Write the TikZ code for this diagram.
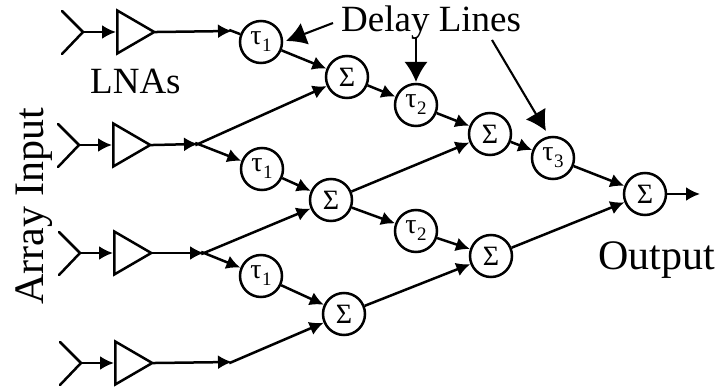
\documentclass[tikz,border=0pt]{standalone}
\usepackage{fontspec}
\setmainfont{Liberation Serif}
\usetikzlibrary{arrows.meta,shapes.geometric}
\def\dly#1{τ\kern.5pt\raisebox{-7pt}{\fontsize{19}{19}\selectfont #1}}
\tikzset{
  wire/.style={line width=2.5pt,-{Latex[length=14pt,width=14pt]}},
  joined/.style={shorten <=-3pt},
  plain/.style={line width=2.5pt},
  pointer/.style={line width=2.1pt,-{Latex[length=20pt,width=23pt]}},
  unit/.style={circle,draw,line width=2.5pt,minimum size=42pt,inner sep=0pt,font=\fontsize{28}{28}\selectfont},
  lna/.style={isosceles triangle,isosceles triangle stretches,draw,line width=2.5pt,
    minimum width=43pt,minimum height=37pt,inner sep=0pt,anchor=lower side},
  lbl/.style={inner sep=0pt,anchor=base west},
}
\begin{document}
\begin{tikzpicture}[x=1pt,y=-1pt]
\useasboundingbox (0,0) rectangle (718,387);
% lna rows
\foreach \n/\x/\y in {1/116/32,2/112/145,3/113/253,4/114/363}{
  \node[lna] (lna\n) at (\x,\y) {};
  \coordinate (ant\n) at (\x-33,\y);
  \coordinate (antup\n) at (\x-54,\y-21);
  \coordinate (antdn\n) at (\x-54,\y+22);
  \draw[plain,line cap=round] (antup\n) -- (ant\n) -- (antdn\n);
  \draw[wire] (ant\n) -- (lna\n.lower side);
}
% delays
\node[unit] (tauA) at (261,42) {\dly{1}};
\node[unit] (tauB) at (262,169) {\dly{1}};
\node[unit] (tauC) at (261,276) {\dly{1}};
\node[unit] (tauD) at (416,105) {\dly{2}};
\node[unit] (tauE) at (416,231) {\dly{2}};
\node[unit] (tauF) at (553,158) {\dly{3}};
% adders
\node[unit] (sumA) at (347,77) {Σ};
\node[unit] (sumB) at (331,200) {Σ};
\node[unit] (sumC) at (344,314) {Σ};
\node[unit] (sumD) at (490,134) {Σ};
\node[unit] (sumE) at (491,256) {Σ};
\node[unit] (sumF) at (645,194) {Σ};
% branch points
\coordinate (bendA) at (232,31);
\coordinate (splitB) at (198,144);
\coordinate (splitC) at (204,253);
\coordinate (bendD) at (232,362);
\coordinate (out) at (700,194);
\draw[wire,joined] (lna1.apex) -- (bendA);
\draw[plain,joined] (bendA) -- (tauA);
\draw[wire,joined] (lna2.apex) -- (splitB);
\draw[wire,joined] (splitB) -- (sumA);
\draw[wire,joined] (splitB) -- (tauB);
\draw[wire,joined] (lna3.apex) -- (splitC);
\draw[wire,joined] (splitC) -- (sumB);
\draw[wire,joined] (splitC) -- (tauC);
\draw[wire,joined] (lna4.apex) -- (bendD);
\draw[wire,joined] (bendD) -- (sumC);
\draw[wire] (tauA) -- (sumA);
\draw[wire] (tauB) -- (sumB);
\draw[wire] (tauC) -- (sumC);
\draw[wire] (sumA) -- (tauD);
\draw[wire] (sumB) -- (tauE);
\draw[wire] (sumB) -- (sumD);
\draw[wire] (sumC) -- (sumE);
\draw[wire] (tauD) -- (sumD);
\draw[wire] (tauE) -- (sumE);
\draw[wire] (sumD) -- (tauF);
\draw[wire] (sumE) -- (sumF);
\draw[wire] (tauF) -- (sumF);
\draw[wire] (sumF) -- (out);
% labels
\node[lbl,font=\fontsize{37}{37}\selectfont] (delay) at (341,32) {Delay Lines};
\node[lbl,font=\fontsize{37}{37}\selectfont] (lnas) at (90,94) {LNAs};
\node[lbl,font=\fontsize{42}{42}\selectfont] (output) at (598,270) {Output};
\node[lbl,font=\fontsize{42}{42}\selectfont,rotate=90] (array) at (43,305) {Array Input};
% pointers
\coordinate (ptrA) at (333,23);
\coordinate (ptrB) at (416,37);
\coordinate (ptrC) at (492,40);
\coordinate (tipA) at (286,41);
\coordinate (tipB) at (416,82);
\coordinate (tipC) at (546,131);
\draw[pointer] (ptrA) -- (tipA);
\draw[pointer] (ptrB) -- (tipB);
\draw[pointer] (ptrC) -- (tipC);
\end{tikzpicture}
\end{document}
